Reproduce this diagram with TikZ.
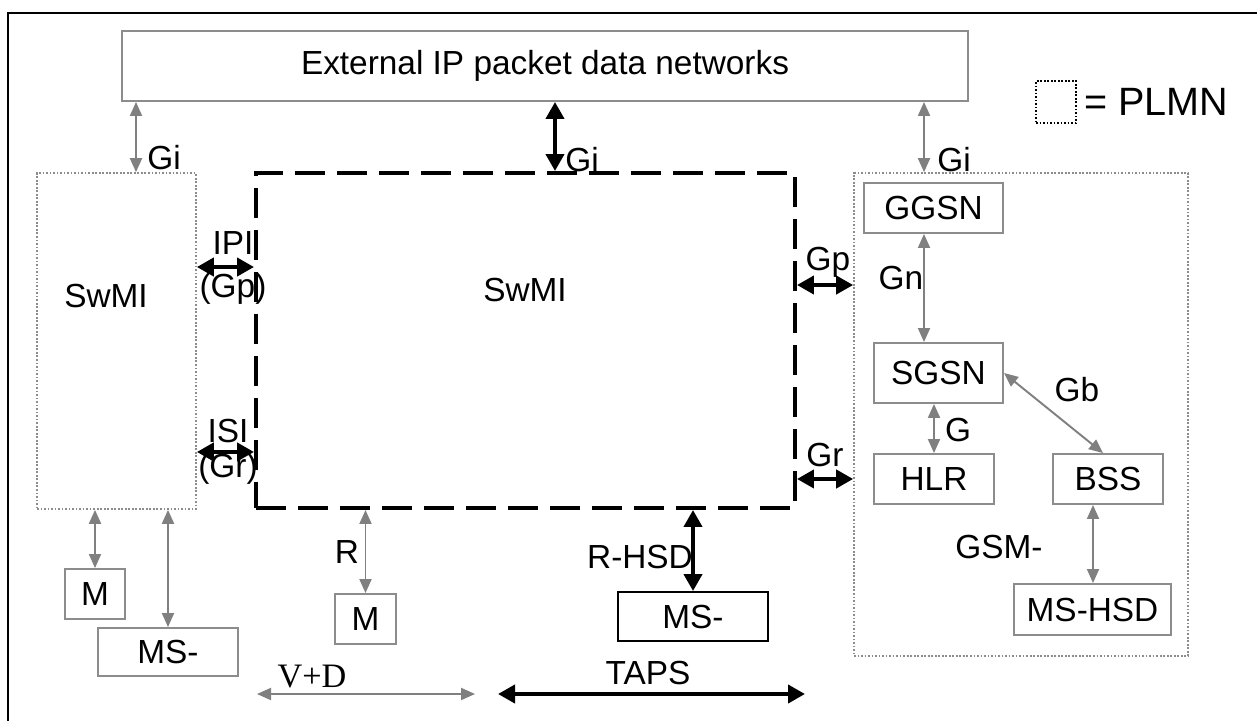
\documentclass[tikz,border=0pt]{standalone}
\usepackage{fontspec}
\setmainfont{Liberation Sans}
\newfontfamily\vdfont{Liberation Serif}
\usetikzlibrary{positioning,arrows.meta}
\definecolor{boxgray}{RGB}{140,140,140}
\definecolor{arrgray}{RGB}{128,128,128}
\tikzstyle{netbox} = [draw=boxgray, line width=1.1pt, inner sep=0pt]
\tikzstyle{blackbox} = [draw, line width=1.1pt, inner sep=0pt]
\tikzstyle{plmn} = [draw=boxgray, line width=1pt, dash pattern=on 1pt off 1pt, inner sep=0pt]
\tikzstyle{tetra} = [draw, line width=2.3pt, dash pattern=on 0.6cm off 0.24cm, inner sep=0pt]
\tikzstyle{garrow} = [draw=arrgray, line width=1.1pt, {Triangle[width=0.24cm,length=0.28cm]}-{Triangle[width=0.24cm,length=0.28cm]}]
\tikzstyle{barrow} = [line width=2.3pt, {Triangle[width=0.36cm,length=0.34cm]}-{Triangle[width=0.36cm,length=0.34cm]}]
\tikzstyle{lbl} = [inner sep=0pt, align=center]

\begin{document}
\begin{tikzpicture}[x=0.02cm, y=-0.02cm, font=\fontsize{19}{22}\selectfont]
    \useasboundingbox (0,0) rectangle (1257,720);
    \draw [line width=1.7pt] (8,760) -- (8,13) -- (1280,13);

    \node (ext) [netbox, minimum width=16.92cm, minimum height=1.4cm] at (545,66) {External IP packet data networks};

    \node (legend) [draw, line width=1.2pt, dash pattern=on 1pt off 1pt, minimum width=0.8cm, minimum height=0.84cm] at (1056,102) {};
    \node (legend-txt) [lbl, right=0.14cm of legend, font=\fontsize{22.5}{26}\selectfont] {= PLMN};

    \node (lsw) [plmn, minimum width=3.18cm, minimum height=6.72cm] at (116.5,341) {};
    \node (lsw-txt) [lbl] at (106,296) {SwMI};
    \node (ctr) [tetra, minimum width=10.78cm, minimum height=6.7cm] at (525.5,340.5) {};
    \node (ctr-txt) [lbl] at (525,290) {SwMI};
    \node (gsm) [plmn, minimum width=6.68cm, minimum height=9.66cm] at (1021,414.5) {};

    \node (ggsn) [netbox, minimum width=2.78cm, minimum height=1.0cm] at (933.5,208) {GGSN};
    \node (sgsn) [netbox, minimum width=2.58cm, minimum height=1.2cm] at (938.5,373) {SGSN};
    \node (hlr) [netbox, minimum width=2.4cm, minimum height=1.0cm] at (934,479) {HLR};
    \node (bss) [netbox, minimum width=2.2cm, minimum height=1.0cm] at (1108,479) {BSS};
    \node (mshsd) [netbox, minimum width=3.14cm, minimum height=1.02cm] at (1092.5,609.5) {MS-HSD};

    \node (m-left) [netbox, minimum width=1.2cm, minimum height=1.0cm] at (95,594) {M};
    \node (ms-left) [netbox, minimum width=2.8cm, minimum height=0.96cm] at (168,652) {MS-};
    \node (m-mid) [netbox, minimum width=1.22cm, minimum height=1.0cm] at (365.5,619) {M};
    \node (ms-hsd) [blackbox, minimum width=3.0cm, minimum height=0.98cm] at (693,616.5) {MS-};

    \draw [garrow] ([xshift=0.39cm]lsw.north) -- ([xshift=0.39cm]lsw.north |- ext.south);
    \node (gi-left) [lbl] at (164,158) {Gi};
    \draw [barrow] ([xshift=0.59cm]ctr.north) -- ([xshift=0.59cm]ctr.north |- ext.south);
    \node (gi-mid) [lbl] at (582,160) {Gi};
    \draw [garrow] ([xshift=-1.94cm]gsm.north) -- ([xshift=-1.94cm]gsm.north |- ext.south);
    \node (gi-right) [lbl] at (954,160) {Gi};

    \draw [barrow] ([yshift=1.48cm]lsw.east) -- ([yshift=1.48cm]lsw.east -| ctr.west);
    \node (ipi) [lbl, font=\fontsize{19}{24.5}\selectfont] at (233,268) {IPI\\(Gp)};
    \draw [barrow] ([yshift=-2.22cm]lsw.east) -- ([yshift=-2.22cm]lsw.east -| ctr.west);
    \node (isi) [lbl, font=\fontsize{19}{20}\selectfont] at (228,452) {ISI\\(Gr)};

    \draw [barrow] ([yshift=1.11cm]ctr.east) -- ([yshift=1.11cm]ctr.east -| gsm.west);
    \node (gp) [lbl] at (828,262) {Gp};
    \draw [barrow] ([yshift=-2.77cm]ctr.east) -- ([yshift=-2.77cm]ctr.east -| gsm.west);
    \node (gr) [lbl] at (825,455) {Gr};

    \draw [garrow] ([xshift=-0.19cm]ggsn.south) -- ([xshift=-0.19cm]ggsn.south |- sgsn.north);
    \node (gn) [lbl] at (901,278) {Gn};
    \draw [garrow] ([xshift=-0.09cm]sgsn.south) -- ([xshift=-0.09cm]sgsn.south |- hlr.north);
    \node (g) [lbl] at (958,430) {G};
    \draw [garrow] (sgsn.east) -- ([xshift=-0.1cm]bss.north);
    \node (gb) [lbl] at (1077,390) {Gb};
    \draw [garrow] ([xshift=-0.3cm]bss.south) -- ([xshift=-0.3cm]bss.south |- mshsd.north);
    \node (gsm-txt) [lbl] at (999,547) {GSM-};

    \draw [garrow] (m-left.north |- lsw.south) -- (m-left.north);
    \draw [garrow] (ms-left.north |- lsw.south) -- (ms-left.north);
    \draw [garrow] (m-mid.north |- ctr.south) -- (m-mid.north);
    \node (r) [lbl] at (347,552) {R};
    \draw [barrow] (ms-hsd.north |- ctr.south) -- (ms-hsd.north);
    \node (r-hsd) [lbl] at (640,557) {R-HSD};

    \coordinate (vd-a) at (257,694);
    \coordinate (vd-b) at (475,694);
    \draw [garrow] (vd-a) -- (vd-b);
    \node (vd) [lbl, font=\vdfont\fontsize{19.5}{22}\selectfont] at (312,677) {V+D};
    \coordinate (taps-a) at (498,694);
    \coordinate (taps-b) at (805,694);
    \draw [barrow] (taps-a) -- (taps-b);
    \node (taps) [lbl] at (648,673) {TAPS};
\end{tikzpicture}
\end{document}
